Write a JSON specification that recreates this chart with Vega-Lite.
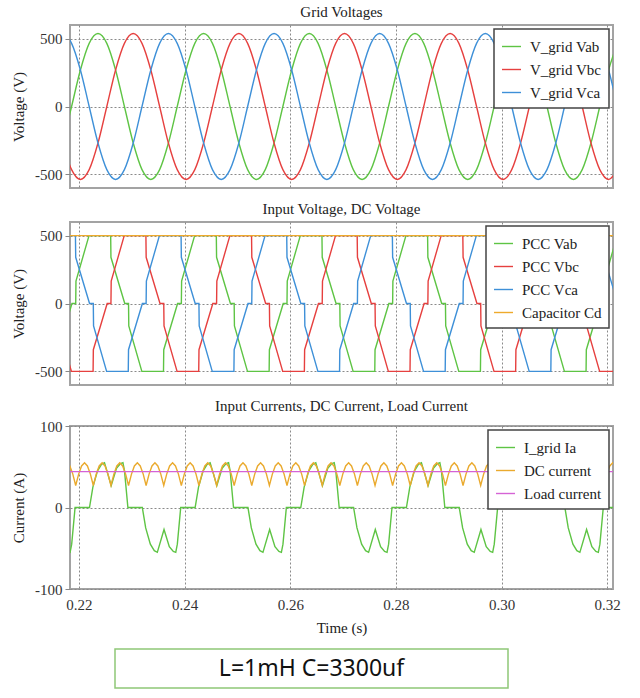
{
"$schema": "https://vega.github.io/schema/vega-lite/v6.json",
"background": "white",
"padding": {"left": 10, "top": 4, "right": 5, "bottom": 5},
"config": {
  "font": "Liberation Serif",
  "view": {"stroke": "#a3a3a3", "strokeWidth": 2},
  "title": {"fontSize": 15, "font": "Liberation Serif", "fontWeight": "normal", "color": "#222", "offset": 5},
  "axis": {"labelFont": "Liberation Serif", "labelFontSize": 15, "labelColor": "#333", "titleFont": "Liberation Serif", "titleFontSize": 15, "titleFontWeight": "normal", "titleColor": "#222", "gridColor": "#8a8a8a", "gridDash": [2, 2], "gridOpacity": 1, "gridWidth": 1, "domain": false, "tickColor": "#888", "tickSize": 5},
  "legend": {"orient": "top-right", "offset": 4, "padding": 7, "strokeColor": "#444", "strokeWidth": 1.5, "fillColor": "white", "symbolType": "stroke", "symbolSize": 361, "symbolStrokeWidth": 1.5, "labelFont": "Liberation Serif", "labelFontSize": 15, "labelColor": "#222", "labelOffset": 8, "rowPadding": 4, "labelLimit": 300},
  "line": {"strokeWidth": 1.4}
},
"datasets": {
  "gab": [{"t":0.21693,"v":-269},{"t":0.2186,"v":0},{"t":0.22027,"v":269},{"t":0.22193,"v":465},{"t":0.2236,"v":537},{"t":0.22527,"v":465},{"t":0.22693,"v":269},{"t":0.2286,"v":0},{"t":0.23027,"v":-269},{"t":0.23193,"v":-465},{"t":0.2336,"v":-537},{"t":0.23527,"v":-465},{"t":0.23693,"v":-269},{"t":0.2386,"v":0},{"t":0.24027,"v":269},{"t":0.24193,"v":465},{"t":0.2436,"v":537},{"t":0.24527,"v":465},{"t":0.24693,"v":269},{"t":0.2486,"v":0},{"t":0.25027,"v":-269},{"t":0.25193,"v":-465},{"t":0.2536,"v":-537},{"t":0.25527,"v":-465},{"t":0.25693,"v":-269},{"t":0.2586,"v":0},{"t":0.26027,"v":269},{"t":0.26193,"v":465},{"t":0.2636,"v":537},{"t":0.26527,"v":465},{"t":0.26693,"v":269},{"t":0.2686,"v":0},{"t":0.27027,"v":-269},{"t":0.27193,"v":-465},{"t":0.2736,"v":-537},{"t":0.27527,"v":-465},{"t":0.27693,"v":-269},{"t":0.2786,"v":0},{"t":0.28027,"v":269},{"t":0.28193,"v":465},{"t":0.2836,"v":537},{"t":0.28527,"v":465},{"t":0.28693,"v":269},{"t":0.2886,"v":0},{"t":0.29027,"v":-269},{"t":0.29193,"v":-465},{"t":0.2936,"v":-537},{"t":0.29527,"v":-465},{"t":0.29693,"v":-269},{"t":0.2986,"v":0},{"t":0.30027,"v":269},{"t":0.30193,"v":465},{"t":0.3036,"v":537},{"t":0.30527,"v":465},{"t":0.30693,"v":269},{"t":0.3086,"v":0},{"t":0.31027,"v":-269},{"t":0.31193,"v":-465},{"t":0.3136,"v":-537},{"t":0.31527,"v":-465},{"t":0.31693,"v":-269},{"t":0.3186,"v":0},{"t":0.32027,"v":269},{"t":0.32193,"v":465}],
  "gbc": [{"t":0.21693,"v":-269},{"t":0.2186,"v":-465},{"t":0.22027,"v":-537},{"t":0.22193,"v":-465},{"t":0.2236,"v":-269},{"t":0.22527,"v":0},{"t":0.22693,"v":269},{"t":0.2286,"v":465},{"t":0.23027,"v":537},{"t":0.23193,"v":465},{"t":0.2336,"v":269},{"t":0.23527,"v":0},{"t":0.23693,"v":-269},{"t":0.2386,"v":-465},{"t":0.24027,"v":-537},{"t":0.24193,"v":-465},{"t":0.2436,"v":-269},{"t":0.24527,"v":0},{"t":0.24693,"v":269},{"t":0.2486,"v":465},{"t":0.25027,"v":537},{"t":0.25193,"v":465},{"t":0.2536,"v":269},{"t":0.25527,"v":0},{"t":0.25693,"v":-269},{"t":0.2586,"v":-465},{"t":0.26027,"v":-537},{"t":0.26193,"v":-465},{"t":0.2636,"v":-269},{"t":0.26527,"v":0},{"t":0.26693,"v":269},{"t":0.2686,"v":465},{"t":0.27027,"v":537},{"t":0.27193,"v":465},{"t":0.2736,"v":269},{"t":0.27527,"v":0},{"t":0.27693,"v":-269},{"t":0.2786,"v":-465},{"t":0.28027,"v":-537},{"t":0.28193,"v":-465},{"t":0.2836,"v":-269},{"t":0.28527,"v":0},{"t":0.28693,"v":269},{"t":0.2886,"v":465},{"t":0.29027,"v":537},{"t":0.29193,"v":465},{"t":0.2936,"v":269},{"t":0.29527,"v":0},{"t":0.29693,"v":-269},{"t":0.2986,"v":-465},{"t":0.30027,"v":-537},{"t":0.30193,"v":-465},{"t":0.3036,"v":-269},{"t":0.30527,"v":0},{"t":0.30693,"v":269},{"t":0.3086,"v":465},{"t":0.31027,"v":537},{"t":0.31193,"v":465},{"t":0.3136,"v":269},{"t":0.31527,"v":0},{"t":0.31693,"v":-269},{"t":0.3186,"v":-465},{"t":0.32027,"v":-537},{"t":0.32193,"v":-465}],
  "gca": [{"t":0.21693,"v":537},{"t":0.2186,"v":465},{"t":0.22027,"v":269},{"t":0.22193,"v":0},{"t":0.2236,"v":-269},{"t":0.22527,"v":-465},{"t":0.22693,"v":-537},{"t":0.2286,"v":-465},{"t":0.23027,"v":-269},{"t":0.23193,"v":0},{"t":0.2336,"v":269},{"t":0.23527,"v":465},{"t":0.23693,"v":537},{"t":0.2386,"v":465},{"t":0.24027,"v":269},{"t":0.24193,"v":0},{"t":0.2436,"v":-269},{"t":0.24527,"v":-465},{"t":0.24693,"v":-537},{"t":0.2486,"v":-465},{"t":0.25027,"v":-269},{"t":0.25193,"v":0},{"t":0.2536,"v":269},{"t":0.25527,"v":465},{"t":0.25693,"v":537},{"t":0.2586,"v":465},{"t":0.26027,"v":269},{"t":0.26193,"v":0},{"t":0.2636,"v":-269},{"t":0.26527,"v":-465},{"t":0.26693,"v":-537},{"t":0.2686,"v":-465},{"t":0.27027,"v":-269},{"t":0.27193,"v":0},{"t":0.2736,"v":269},{"t":0.27527,"v":465},{"t":0.27693,"v":537},{"t":0.2786,"v":465},{"t":0.28027,"v":269},{"t":0.28193,"v":0},{"t":0.2836,"v":-269},{"t":0.28527,"v":-465},{"t":0.28693,"v":-537},{"t":0.2886,"v":-465},{"t":0.29027,"v":-269},{"t":0.29193,"v":0},{"t":0.2936,"v":269},{"t":0.29527,"v":465},{"t":0.29693,"v":537},{"t":0.2986,"v":465},{"t":0.30027,"v":269},{"t":0.30193,"v":0},{"t":0.3036,"v":-269},{"t":0.30527,"v":-465},{"t":0.30693,"v":-537},{"t":0.3086,"v":-465},{"t":0.31027,"v":-269},{"t":0.31193,"v":0},{"t":0.3136,"v":269},{"t":0.31527,"v":465},{"t":0.31693,"v":537},{"t":0.3186,"v":465},{"t":0.32027,"v":269},{"t":0.32193,"v":0}],
  "pab": [{"t":0.216,"v":-500},{"t":0.21605,"v":-340},{"t":0.21867,"v":0},{"t":0.21938,"v":0},{"t":0.21943,"v":165},{"t":0.2219,"v":500},{"t":0.226,"v":500},{"t":0.22605,"v":340},{"t":0.22867,"v":0},{"t":0.22938,"v":0},{"t":0.22943,"v":-165},{"t":0.2319,"v":-500},{"t":0.236,"v":-500},{"t":0.23605,"v":-340},{"t":0.23867,"v":0},{"t":0.23938,"v":0},{"t":0.23943,"v":165},{"t":0.2419,"v":500},{"t":0.246,"v":500},{"t":0.24605,"v":340},{"t":0.24867,"v":0},{"t":0.24938,"v":0},{"t":0.24943,"v":-165},{"t":0.2519,"v":-500},{"t":0.256,"v":-500},{"t":0.25605,"v":-340},{"t":0.25867,"v":0},{"t":0.25938,"v":0},{"t":0.25943,"v":165},{"t":0.2619,"v":500},{"t":0.266,"v":500},{"t":0.26605,"v":340},{"t":0.26867,"v":0},{"t":0.26938,"v":0},{"t":0.26943,"v":-165},{"t":0.2719,"v":-500},{"t":0.276,"v":-500},{"t":0.27605,"v":-340},{"t":0.27867,"v":0},{"t":0.27938,"v":0},{"t":0.27943,"v":165},{"t":0.2819,"v":500},{"t":0.286,"v":500},{"t":0.28605,"v":340},{"t":0.28867,"v":0},{"t":0.28938,"v":0},{"t":0.28943,"v":-165},{"t":0.2919,"v":-500},{"t":0.296,"v":-500},{"t":0.29605,"v":-340},{"t":0.29867,"v":0},{"t":0.29938,"v":0},{"t":0.29943,"v":165},{"t":0.3019,"v":500},{"t":0.306,"v":500},{"t":0.30605,"v":340},{"t":0.30867,"v":0},{"t":0.30938,"v":0},{"t":0.30943,"v":-165},{"t":0.3119,"v":-500},{"t":0.316,"v":-500},{"t":0.31605,"v":-340},{"t":0.31867,"v":0},{"t":0.31938,"v":0},{"t":0.31943,"v":165},{"t":0.3219,"v":500}],
  "pbc": [{"t":0.21534,"v":0},{"t":0.21605,"v":0},{"t":0.2161,"v":-165},{"t":0.21857,"v":-500},{"t":0.22267,"v":-500},{"t":0.22272,"v":-340},{"t":0.22534,"v":0},{"t":0.22605,"v":0},{"t":0.2261,"v":165},{"t":0.22857,"v":500},{"t":0.23267,"v":500},{"t":0.23272,"v":340},{"t":0.23534,"v":0},{"t":0.23605,"v":0},{"t":0.2361,"v":-165},{"t":0.23857,"v":-500},{"t":0.24267,"v":-500},{"t":0.24272,"v":-340},{"t":0.24534,"v":0},{"t":0.24605,"v":0},{"t":0.2461,"v":165},{"t":0.24857,"v":500},{"t":0.25267,"v":500},{"t":0.25272,"v":340},{"t":0.25534,"v":0},{"t":0.25605,"v":0},{"t":0.2561,"v":-165},{"t":0.25857,"v":-500},{"t":0.26267,"v":-500},{"t":0.26272,"v":-340},{"t":0.26534,"v":0},{"t":0.26605,"v":0},{"t":0.2661,"v":165},{"t":0.26857,"v":500},{"t":0.27267,"v":500},{"t":0.27272,"v":340},{"t":0.27534,"v":0},{"t":0.27605,"v":0},{"t":0.2761,"v":-165},{"t":0.27857,"v":-500},{"t":0.28267,"v":-500},{"t":0.28272,"v":-340},{"t":0.28534,"v":0},{"t":0.28605,"v":0},{"t":0.2861,"v":165},{"t":0.28857,"v":500},{"t":0.29267,"v":500},{"t":0.29272,"v":340},{"t":0.29534,"v":0},{"t":0.29605,"v":0},{"t":0.2961,"v":-165},{"t":0.29857,"v":-500},{"t":0.30267,"v":-500},{"t":0.30272,"v":-340},{"t":0.30534,"v":0},{"t":0.30605,"v":0},{"t":0.3061,"v":165},{"t":0.30857,"v":500},{"t":0.31267,"v":500},{"t":0.31272,"v":340},{"t":0.31534,"v":0},{"t":0.31605,"v":0},{"t":0.3161,"v":-165},{"t":0.31857,"v":-500},{"t":0.32267,"v":-500},{"t":0.32272,"v":-340}],
  "pca": [{"t":0.212,"v":0},{"t":0.21271,"v":0},{"t":0.21276,"v":165},{"t":0.21523,"v":500},{"t":0.21933,"v":500},{"t":0.21938,"v":340},{"t":0.222,"v":0},{"t":0.22271,"v":0},{"t":0.22276,"v":-165},{"t":0.22523,"v":-500},{"t":0.22933,"v":-500},{"t":0.22938,"v":-340},{"t":0.232,"v":0},{"t":0.23271,"v":0},{"t":0.23276,"v":165},{"t":0.23523,"v":500},{"t":0.23933,"v":500},{"t":0.23938,"v":340},{"t":0.242,"v":0},{"t":0.24271,"v":0},{"t":0.24276,"v":-165},{"t":0.24523,"v":-500},{"t":0.24933,"v":-500},{"t":0.24938,"v":-340},{"t":0.252,"v":0},{"t":0.25271,"v":0},{"t":0.25276,"v":165},{"t":0.25523,"v":500},{"t":0.25933,"v":500},{"t":0.25938,"v":340},{"t":0.262,"v":0},{"t":0.26271,"v":0},{"t":0.26276,"v":-165},{"t":0.26523,"v":-500},{"t":0.26933,"v":-500},{"t":0.26938,"v":-340},{"t":0.272,"v":0},{"t":0.27271,"v":0},{"t":0.27276,"v":165},{"t":0.27523,"v":500},{"t":0.27933,"v":500},{"t":0.27938,"v":340},{"t":0.282,"v":0},{"t":0.28271,"v":0},{"t":0.28276,"v":-165},{"t":0.28523,"v":-500},{"t":0.28933,"v":-500},{"t":0.28938,"v":-340},{"t":0.292,"v":0},{"t":0.29271,"v":0},{"t":0.29276,"v":165},{"t":0.29523,"v":500},{"t":0.29933,"v":500},{"t":0.29938,"v":340},{"t":0.302,"v":0},{"t":0.30271,"v":0},{"t":0.30276,"v":-165},{"t":0.30523,"v":-500},{"t":0.30933,"v":-500},{"t":0.30938,"v":-340},{"t":0.312,"v":0},{"t":0.31271,"v":0},{"t":0.31276,"v":165},{"t":0.31523,"v":500},{"t":0.31933,"v":500},{"t":0.31938,"v":340},{"t":0.322,"v":0}],
  "cap": [{"t":0.215,"v":500},{"t":0.235,"v":500},{"t":0.255,"v":500},{"t":0.275,"v":500},{"t":0.295,"v":500},{"t":0.315,"v":500},{"t":0.325,"v":500}],
  "ia": [{"t":0.21199,"v":0},{"t":0.21263,"v":-25},{"t":0.21351,"v":-45},{"t":0.21426,"v":-53},{"t":0.21483,"v":-55},{"t":0.2161,"v":-27},{"t":0.2171,"v":-48},{"t":0.21786,"v":-54},{"t":0.21832,"v":-55},{"t":0.21862,"v":-45},{"t":0.21926,"v":0},
         {"t":0.22199,"v":0},{"t":0.22263,"v":25},{"t":0.22351,"v":45},{"t":0.22426,"v":53},{"t":0.22483,"v":55},{"t":0.2261,"v":27},{"t":0.2271,"v":48},{"t":0.22786,"v":54},{"t":0.22832,"v":55},{"t":0.22862,"v":45},{"t":0.22926,"v":0},
         {"t":0.23199,"v":0},{"t":0.23263,"v":-25},{"t":0.23351,"v":-45},{"t":0.23426,"v":-53},{"t":0.23483,"v":-55},{"t":0.2361,"v":-27},{"t":0.2371,"v":-48},{"t":0.23786,"v":-54},{"t":0.23832,"v":-55},{"t":0.23862,"v":-45},{"t":0.23926,"v":0},
         {"t":0.24199,"v":0},{"t":0.24263,"v":25},{"t":0.24351,"v":45},{"t":0.24426,"v":53},{"t":0.24483,"v":55},{"t":0.2461,"v":27},{"t":0.2471,"v":48},{"t":0.24786,"v":54},{"t":0.24832,"v":55},{"t":0.24862,"v":45},{"t":0.24926,"v":0},
         {"t":0.25199,"v":0},{"t":0.25263,"v":-25},{"t":0.25351,"v":-45},{"t":0.25426,"v":-53},{"t":0.25483,"v":-55},{"t":0.2561,"v":-27},{"t":0.2571,"v":-48},{"t":0.25786,"v":-54},{"t":0.25832,"v":-55},{"t":0.25862,"v":-45},{"t":0.25926,"v":0},
         {"t":0.26199,"v":0},{"t":0.26263,"v":25},{"t":0.26351,"v":45},{"t":0.26426,"v":53},{"t":0.26483,"v":55},{"t":0.2661,"v":27},{"t":0.2671,"v":48},{"t":0.26786,"v":54},{"t":0.26832,"v":55},{"t":0.26862,"v":45},{"t":0.26926,"v":0},
         {"t":0.27199,"v":0},{"t":0.27263,"v":-25},{"t":0.27351,"v":-45},{"t":0.27426,"v":-53},{"t":0.27483,"v":-55},{"t":0.2761,"v":-27},{"t":0.2771,"v":-48},{"t":0.27786,"v":-54},{"t":0.27832,"v":-55},{"t":0.27862,"v":-45},{"t":0.27926,"v":0},
         {"t":0.28199,"v":0},{"t":0.28263,"v":25},{"t":0.28351,"v":45},{"t":0.28426,"v":53},{"t":0.28483,"v":55},{"t":0.2861,"v":27},{"t":0.2871,"v":48},{"t":0.28786,"v":54},{"t":0.28832,"v":55},{"t":0.28862,"v":45},{"t":0.28926,"v":0},
         {"t":0.29199,"v":0},{"t":0.29263,"v":-25},{"t":0.29351,"v":-45},{"t":0.29426,"v":-53},{"t":0.29483,"v":-55},{"t":0.2961,"v":-27},{"t":0.2971,"v":-48},{"t":0.29786,"v":-54},{"t":0.29832,"v":-55},{"t":0.29862,"v":-45},{"t":0.29926,"v":0},
         {"t":0.30199,"v":0},{"t":0.30263,"v":25},{"t":0.30351,"v":45},{"t":0.30426,"v":53},{"t":0.30483,"v":55},{"t":0.3061,"v":27},{"t":0.3071,"v":48},{"t":0.30786,"v":54},{"t":0.30832,"v":55},{"t":0.30862,"v":45},{"t":0.30926,"v":0},
         {"t":0.31199,"v":0},{"t":0.31263,"v":-25},{"t":0.31351,"v":-45},{"t":0.31426,"v":-53},{"t":0.31483,"v":-55},{"t":0.3161,"v":-27},{"t":0.3171,"v":-48},{"t":0.31786,"v":-54},{"t":0.31832,"v":-55},{"t":0.31862,"v":-45},{"t":0.31926,"v":0},
         {"t":0.32199,"v":0}],
  "dc": [{"t":0.21605,"v":27},{"t":0.21661,"v":41},{"t":0.21716,"v":51},{"t":0.21772,"v":55},{"t":0.21827,"v":51},{"t":0.21883,"v":41},
         {"t":0.21938,"v":27},{"t":0.21994,"v":41},{"t":0.22049,"v":51},{"t":0.22105,"v":55},{"t":0.2216,"v":51},{"t":0.22216,"v":41},
         {"t":0.22271,"v":27},{"t":0.22327,"v":41},{"t":0.22382,"v":51},{"t":0.22438,"v":55},{"t":0.22493,"v":51},{"t":0.22549,"v":41},
         {"t":0.22605,"v":27},{"t":0.22661,"v":41},{"t":0.22716,"v":51},{"t":0.22772,"v":55},{"t":0.22827,"v":51},{"t":0.22883,"v":41},
         {"t":0.22938,"v":27},{"t":0.22994,"v":41},{"t":0.23049,"v":51},{"t":0.23105,"v":55},{"t":0.2316,"v":51},{"t":0.23216,"v":41},
         {"t":0.23271,"v":27},{"t":0.23327,"v":41},{"t":0.23382,"v":51},{"t":0.23438,"v":55},{"t":0.23493,"v":51},{"t":0.23549,"v":41},
         {"t":0.23605,"v":27},{"t":0.23661,"v":41},{"t":0.23716,"v":51},{"t":0.23772,"v":55},{"t":0.23827,"v":51},{"t":0.23883,"v":41},
         {"t":0.23938,"v":27},{"t":0.23994,"v":41},{"t":0.24049,"v":51},{"t":0.24105,"v":55},{"t":0.2416,"v":51},{"t":0.24216,"v":41},
         {"t":0.24271,"v":27},{"t":0.24327,"v":41},{"t":0.24382,"v":51},{"t":0.24438,"v":55},{"t":0.24493,"v":51},{"t":0.24549,"v":41},
         {"t":0.24605,"v":27},{"t":0.24661,"v":41},{"t":0.24716,"v":51},{"t":0.24772,"v":55},{"t":0.24827,"v":51},{"t":0.24883,"v":41},
         {"t":0.24938,"v":27},{"t":0.24994,"v":41},{"t":0.25049,"v":51},{"t":0.25105,"v":55},{"t":0.2516,"v":51},{"t":0.25216,"v":41},
         {"t":0.25271,"v":27},{"t":0.25327,"v":41},{"t":0.25382,"v":51},{"t":0.25438,"v":55},{"t":0.25493,"v":51},{"t":0.25549,"v":41},
         {"t":0.25605,"v":27},{"t":0.25661,"v":41},{"t":0.25716,"v":51},{"t":0.25772,"v":55},{"t":0.25827,"v":51},{"t":0.25883,"v":41},
         {"t":0.25938,"v":27},{"t":0.25994,"v":41},{"t":0.26049,"v":51},{"t":0.26105,"v":55},{"t":0.2616,"v":51},{"t":0.26216,"v":41},
         {"t":0.26271,"v":27},{"t":0.26327,"v":41},{"t":0.26382,"v":51},{"t":0.26438,"v":55},{"t":0.26493,"v":51},{"t":0.26549,"v":41},
         {"t":0.26605,"v":27},{"t":0.26661,"v":41},{"t":0.26716,"v":51},{"t":0.26772,"v":55},{"t":0.26827,"v":51},{"t":0.26883,"v":41},
         {"t":0.26938,"v":27},{"t":0.26994,"v":41},{"t":0.27049,"v":51},{"t":0.27105,"v":55},{"t":0.2716,"v":51},{"t":0.27216,"v":41},
         {"t":0.27271,"v":27},{"t":0.27327,"v":41},{"t":0.27382,"v":51},{"t":0.27438,"v":55},{"t":0.27493,"v":51},{"t":0.27549,"v":41},
         {"t":0.27605,"v":27},{"t":0.27661,"v":41},{"t":0.27716,"v":51},{"t":0.27772,"v":55},{"t":0.27827,"v":51},{"t":0.27883,"v":41},
         {"t":0.27938,"v":27},{"t":0.27994,"v":41},{"t":0.28049,"v":51},{"t":0.28105,"v":55},{"t":0.2816,"v":51},{"t":0.28216,"v":41},
         {"t":0.28271,"v":27},{"t":0.28327,"v":41},{"t":0.28382,"v":51},{"t":0.28438,"v":55},{"t":0.28493,"v":51},{"t":0.28549,"v":41},
         {"t":0.28605,"v":27},{"t":0.28661,"v":41},{"t":0.28716,"v":51},{"t":0.28772,"v":55},{"t":0.28827,"v":51},{"t":0.28883,"v":41},
         {"t":0.28938,"v":27},{"t":0.28994,"v":41},{"t":0.29049,"v":51},{"t":0.29105,"v":55},{"t":0.2916,"v":51},{"t":0.29216,"v":41},
         {"t":0.29271,"v":27},{"t":0.29327,"v":41},{"t":0.29382,"v":51},{"t":0.29438,"v":55},{"t":0.29493,"v":51},{"t":0.29549,"v":41},
         {"t":0.29605,"v":27},{"t":0.29661,"v":41},{"t":0.29716,"v":51},{"t":0.29772,"v":55},{"t":0.29827,"v":51},{"t":0.29883,"v":41},
         {"t":0.29938,"v":27},{"t":0.29994,"v":41},{"t":0.30049,"v":51},{"t":0.30105,"v":55},{"t":0.3016,"v":51},{"t":0.30216,"v":41},
         {"t":0.30271,"v":27},{"t":0.30327,"v":41},{"t":0.30382,"v":51},{"t":0.30438,"v":55},{"t":0.30493,"v":51},{"t":0.30549,"v":41},
         {"t":0.30605,"v":27},{"t":0.30661,"v":41},{"t":0.30716,"v":51},{"t":0.30772,"v":55},{"t":0.30827,"v":51},{"t":0.30883,"v":41},
         {"t":0.30938,"v":27},{"t":0.30994,"v":41},{"t":0.31049,"v":51},{"t":0.31105,"v":55},{"t":0.3116,"v":51},{"t":0.31216,"v":41},
         {"t":0.31271,"v":27},{"t":0.31327,"v":41},{"t":0.31382,"v":51},{"t":0.31438,"v":55},{"t":0.31493,"v":51},{"t":0.31549,"v":41},
         {"t":0.31605,"v":27},{"t":0.31661,"v":41},{"t":0.31716,"v":51},{"t":0.31772,"v":55},{"t":0.31827,"v":51},{"t":0.31883,"v":41},
         {"t":0.31938,"v":27},{"t":0.31994,"v":41},{"t":0.32049,"v":51},{"t":0.32105,"v":55},{"t":0.3216,"v":51},{"t":0.32216,"v":41},
         {"t":0.32271,"v":27}],
  "load": [{"t":0.215,"v":44},{"t":0.24,"v":44},{"t":0.26,"v":44},{"t":0.28,"v":44},{"t":0.30,"v":44},{"t":0.325,"v":44}]
},
"spacing": 12,
"resolve": {"scale": {"color": "independent", "x": "independent", "y": "independent"}, "legend": {"color": "independent"}},
"vconcat": [
  {
    "title": "Grid Voltages",
    "width": 543, "height": 163,
    "layer": [
      {"data": {"name": "gab"}, "mark": {"type": "line", "interpolate": "monotone", "clip": true},
       "encoding": {
         "x": {"field": "t", "type": "quantitative", "scale": {"domain": [0.2183, 0.3211], "nice": false, "zero": false}, "axis": {"values": [0.22, 0.24, 0.26, 0.28, 0.30, 0.32], "labels": false, "ticks": false, "title": null, "grid": true}},
         "y": {"field": "v", "type": "quantitative", "scale": {"domain": [-600, 600], "nice": false}, "axis": {"values": [-500, 0, 500], "labelExpr": "replace(datum.label, '\u2212', '-')", "title": "Voltage (V)", "grid": true, "titlePadding": 8, "labelPadding": 3, "labelFont": "Liberation Serif", "labelFontSize": 15, "titleFont": "Liberation Serif", "titleFontSize": 15}},
         "color": {"datum": "V_grid Vab", "type": "nominal", "scale": {"domain": ["V_grid Vab", "V_grid Vbc", "V_grid Vca"], "range": ["#5ec444", "#e6403f", "#3e90d8"]}, "legend": {"title": null}}
       }},
      {"data": {"name": "gbc"}, "mark": {"type": "line", "interpolate": "monotone", "clip": true},
       "encoding": {"x": {"field": "t", "type": "quantitative"}, "y": {"field": "v", "type": "quantitative"}, "color": {"datum": "V_grid Vbc", "type": "nominal"}}},
      {"data": {"name": "gca"}, "mark": {"type": "line", "interpolate": "monotone", "clip": true},
       "encoding": {"x": {"field": "t", "type": "quantitative"}, "y": {"field": "v", "type": "quantitative"}, "color": {"datum": "V_grid Vca", "type": "nominal"}}}
    ]
  },
  {
    "title": "Input Voltage, DC Voltage",
    "width": 543, "height": 163,
    "layer": [
      {"data": {"name": "pab"}, "mark": {"type": "line", "clip": true},
       "encoding": {
         "x": {"field": "t", "type": "quantitative", "scale": {"domain": [0.2183, 0.3211], "nice": false, "zero": false}, "axis": {"values": [0.22, 0.24, 0.26, 0.28, 0.30, 0.32], "labels": false, "ticks": false, "title": null, "grid": true}},
         "y": {"field": "v", "type": "quantitative", "scale": {"domain": [-600, 600], "nice": false}, "axis": {"values": [-500, 0, 500], "labelExpr": "replace(datum.label, '\u2212', '-')", "title": "Voltage (V)", "grid": true, "titlePadding": 8, "labelPadding": 3, "labelFont": "Liberation Serif", "labelFontSize": 15, "titleFont": "Liberation Serif", "titleFontSize": 15}},
         "color": {"datum": "PCC Vab", "type": "nominal", "scale": {"domain": ["PCC Vab", "PCC Vbc", "PCC Vca", "Capacitor Cd"], "range": ["#5ec444", "#e6403f", "#3e90d8", "#eeaa2c"]}, "legend": {"title": null}}
       }},
      {"data": {"name": "pbc"}, "mark": {"type": "line", "clip": true},
       "encoding": {"x": {"field": "t", "type": "quantitative"}, "y": {"field": "v", "type": "quantitative"}, "color": {"datum": "PCC Vbc", "type": "nominal"}}},
      {"data": {"name": "pca"}, "mark": {"type": "line", "clip": true},
       "encoding": {"x": {"field": "t", "type": "quantitative"}, "y": {"field": "v", "type": "quantitative"}, "color": {"datum": "PCC Vca", "type": "nominal"}}},
      {"data": {"name": "cap"}, "mark": {"type": "line", "clip": true},
       "encoding": {"x": {"field": "t", "type": "quantitative"}, "y": {"field": "v", "type": "quantitative"}, "color": {"datum": "Capacitor Cd", "type": "nominal"}}}
    ]
  },
  {
    "title": "Input Currents, DC Current, Load Current",
    "width": 543, "height": 163,
    "layer": [
      {"data": {"name": "ia"}, "mark": {"type": "line", "clip": true},
       "encoding": {
         "x": {"field": "t", "type": "quantitative", "scale": {"domain": [0.2183, 0.3211], "nice": false, "zero": false}, "axis": {"values": [0.22, 0.24, 0.26, 0.28, 0.30, 0.32], "format": ".2f", "ticks": false, "title": "Time (s)", "grid": true, "labelPadding": 8, "titlePadding": 8, "labelFont": "Liberation Serif", "labelFontSize": 15, "titleFont": "Liberation Serif", "titleFontSize": 15}},
         "y": {"field": "v", "type": "quantitative", "scale": {"domain": [-100, 100], "nice": false}, "axis": {"values": [-100, 0, 100], "labelExpr": "replace(datum.label, '\u2212', '-')", "title": "Current (A)", "grid": true, "titlePadding": 8, "labelPadding": 3, "labelFont": "Liberation Serif", "labelFontSize": 15, "titleFont": "Liberation Serif", "titleFontSize": 15}},
         "color": {"datum": "I_grid Ia", "type": "nominal", "scale": {"domain": ["I_grid Ia", "DC current", "Load current"], "range": ["#5ec444", "#eaaa2e", "#d563d5"]}, "legend": {"title": null}}
       }},
      {"data": {"name": "dc"}, "mark": {"type": "line", "clip": true},
       "encoding": {"x": {"field": "t", "type": "quantitative"}, "y": {"field": "v", "type": "quantitative"}, "color": {"datum": "DC current", "type": "nominal"}}},
      {"data": {"name": "load"}, "mark": {"type": "line", "clip": true},
       "encoding": {"x": {"field": "t", "type": "quantitative"}, "y": {"field": "v", "type": "quantitative"}, "color": {"datum": "Load current", "type": "nominal"}}}
    ]
  },
  {
    "spacing": 12,
    "hconcat": [
      {
        "width": 32, "height": 39,
        "view": {"stroke": null},
        "data": {"values": []},
        "mark": "point"
      },
      {
        "width": 393, "height": 39,
        "view": {"stroke": "#8fc777", "strokeWidth": 1.5},
        "data": {"values": [{"label": "L=1mH C=3300uf"}]},
        "mark": {"type": "text", "font": "Noto Sans", "fontSize": 23, "color": "#111"},
        "encoding": {"text": {"field": "label", "type": "nominal"}}
      }
    ]
  }
]
}
